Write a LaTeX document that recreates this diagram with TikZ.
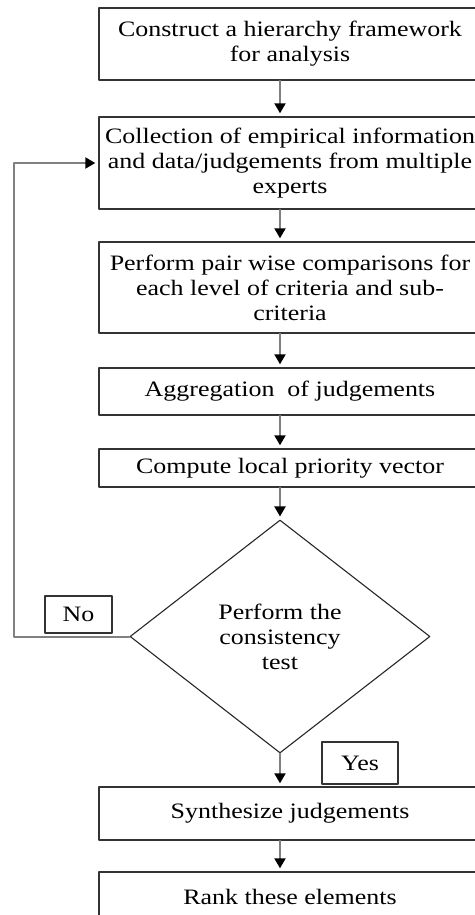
\documentclass[tikz,border=0pt]{standalone}
\usepackage{fontspec}
\setmainfont{Liberation Serif}[FakeStretch=1.18]
\usetikzlibrary{arrows.meta}
\usetikzlibrary{shapes.geometric}

\begin{document}
\begin{tikzpicture}[x=0.5pt,y=-0.5pt,line cap=round,line join=round,
    >={Triangle[black,width=5.5pt,length=5pt]},
    font=\fontsize{11}{12.5}\selectfont,
    procbox/.style={draw=black!80,line width=0.7pt,fill=white,minimum width=191pt,align=center,inner sep=2pt},
    testshape/.style={diamond,draw=black!85,line width=0.55pt,aspect=1.29,minimum width=150pt,minimum height=116.5pt,align=center,inner sep=0pt},
    answer/.style={draw=black!80,line width=0.9pt,fill=white,minimum width=33.5pt,minimum height=18.5pt,inner sep=0pt},
    flowline/.style={draw=black!50,line width=1pt,->,shorten >=1.5pt}]
      \useasboundingbox (0,0) rectangle (475,915);
      \clip (0,0) rectangle (475,915);
      \node[procbox,minimum height=36pt] (frame) at (290,44) {Construct a hierarchy framework\\for analysis};
      \node[procbox,minimum height=46pt] (collect) at (290,163) {Collection of empirical information\\and data/judgements from multiple\\experts};
      \node[procbox,minimum height=45.5pt] (pairwise) at (290,287.5) {Perform pair wise comparisons for\\each level of criteria and sub-\\criteria};
      \node[procbox,minimum height=23.5pt] (aggr) at (290,391.5) {Aggregation\ \ of judgements};
      \node[procbox,minimum height=19pt] (local) at (290,468) {Compute local priority vector};
      \node[testshape] (test) at (280,636.5) {Perform the\\consistency\\test};
      \node[procbox,minimum height=26.5pt] (synth) at (290,813.5) {Synthesize judgements};
      \node[procbox,minimum height=25pt] (rank) at (290,897) {Rank these elements};
      \coordinate (back) at (14,634);
      \draw[flowline] (frame.south -| test.north) -- (collect.north -| test.north);
      \draw[flowline] (collect.south -| test.north) -- (pairwise.north -| test.north);
      \draw[flowline] (pairwise.south -| test.north) -- (aggr.north -| test.north);
      \draw[flowline] (aggr.south -| test.north) -- (local.north -| test.north);
      \draw[flowline] (local.south -| test.north) -- (test.north);
      \draw[flowline] (test.south) -- (synth.north -| test.south);
      \draw[flowline] (synth.south -| test.south) -- (rank.north -| test.south);
      \draw[flowline] (test.west) -- (test.west -| back) |- (collect.west);
      \node[answer] (no) at (78.5,614.5) {No};
      \node[answer,minimum width=38pt,minimum height=21pt] (yes) at (360,763) {Yes};
    \end{tikzpicture}
\end{document}
